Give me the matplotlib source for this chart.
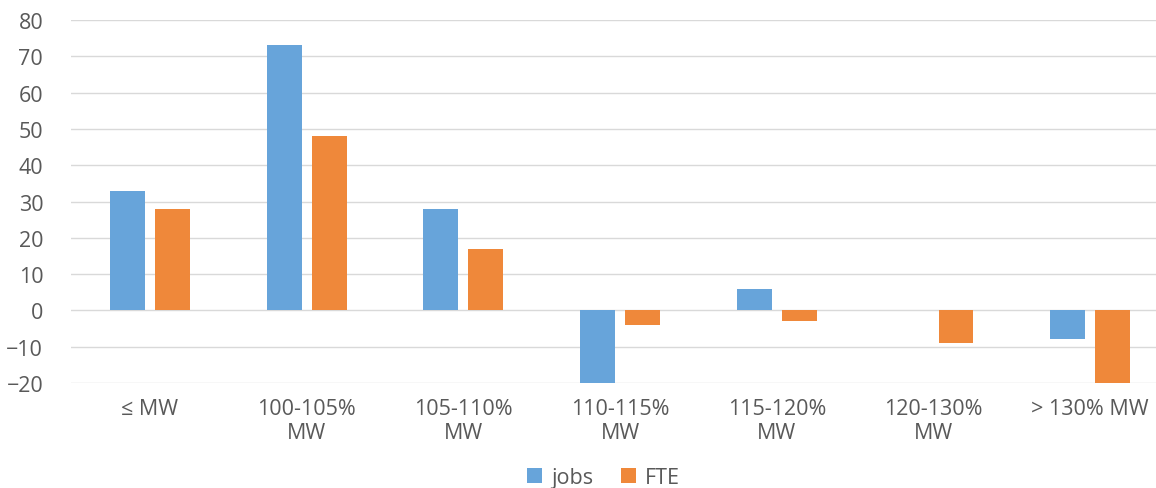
import matplotlib
matplotlib.use("Agg")
import matplotlib.pyplot as plt
import numpy as np

plt.rcParams['font.family'] = ['Open Sans', 'DejaVu Sans']

categories = ['≤ MW', '100-105%\nMW', '105-110%\nMW', '110-115%\nMW',
              '115-120%\nMW', '120-130%\nMW', '> 130% MW']
jobs = [33, 73, 28, -20, 6, 0, -8]
fte = [28, 48, 17, -4, -3, -9, -20]

blue = '#67A4DA'
orange = '#EF883A'
grey = '#595959'

fig = plt.figure(figsize=(11.56, 4.89), dpi=100)
ax = fig.add_axes([0.0614, 0.2147, 0.9386, 0.7423])

x = np.arange(len(categories))
w = 0.223
ax.bar(x - 0.1436, jobs, w, color=blue, label='jobs', zorder=3)
ax.bar(x + 0.1436, fte, w, color=orange, label='FTE', zorder=3)

ax.set_ylim(-20, 80)
ax.set_yticks(np.arange(-20, 81, 10))
ax.set_xlim(-0.504, 6.42)
ax.set_xticks(x)
ax.set_xticklabels(categories, color=grey, fontsize=15.5, linespacing=1.2)
ax.tick_params(axis='y', colors=grey, labelsize=15.5, length=0, pad=20)
ax.tick_params(axis='x', length=0, pad=11)
ax.grid(axis='y', color='#D9D9D9', linewidth=1, zorder=0)
for s in ax.spines.values():
    s.set_visible(False)

fig.legend(loc='lower center', bbox_to_anchor=(0.522, -0.04), ncol=2,
           frameon=False, fontsize=15.5, labelcolor=grey,
           handlelength=0.7, handleheight=0.7, handletextpad=0.4, columnspacing=1.3)

fig.savefig('out.png', dpi=100)
